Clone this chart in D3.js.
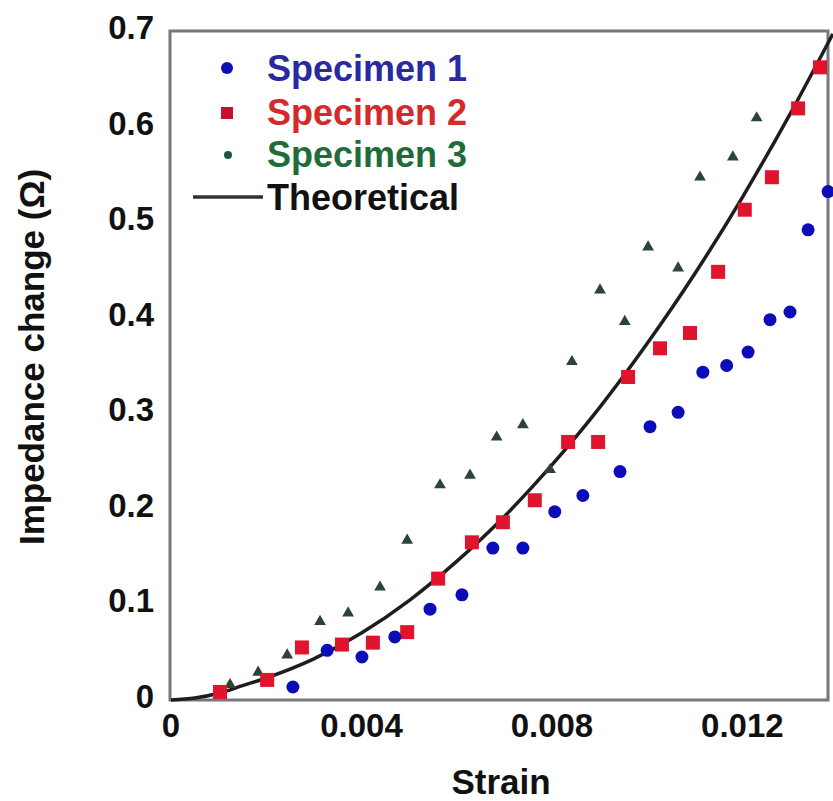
<!DOCTYPE html>
<html>
  <head>
    <meta charset="utf-8" />
    <title>Impedance change vs strain</title>
    <script src="https://d3js.org/d3.v7.min.js"></script>
    <style>
      body {
        margin: 0;
        background: #fff;
      }
      text {
        font-family: "Liberation Sans", Arial, sans-serif;
        font-weight: bold;
      }
    </style>
  </head>
  <body>
    <svg id="chart"></svg>

    <script>
      // values
      var s1Strain = [0.00256, 0.00328, 0.00401, 0.0047, 0.00544, 0.00611, 0.00676, 0.00739, 0.00806, 0.00865,
                      0.00943, 0.01006, 0.01065, 0.01117, 0.01167, 0.01212, 0.01258, 0.013, 0.01338, 0.0138];
      var s1Imp = [0.0136, 0.052, 0.045, 0.066, 0.095, 0.110, 0.159, 0.159, 0.197, 0.214,
                   0.239, 0.286, 0.301, 0.343, 0.350, 0.364, 0.398, 0.406, 0.492, 0.532];

      var s2Strain = [0.00103, 0.00202, 0.00275, 0.00359, 0.00424, 0.00496, 0.00561, 0.00632, 0.00697, 0.00764,
                      0.00834, 0.00897, 0.0096, 0.01027, 0.0109, 0.01149, 0.01205, 0.01262, 0.01317, 0.01363];
      var s2Imp = [0.0084, 0.021, 0.055, 0.058, 0.060, 0.071, 0.127, 0.165, 0.186, 0.209,
                   0.270, 0.270, 0.338, 0.368, 0.384, 0.448, 0.513, 0.547, 0.619, 0.662];

      var s3Strain = [0.00124, 0.00183, 0.00244, 0.00313, 0.00372, 0.00439, 0.00496, 0.00565, 0.00628, 0.00684,
                      0.00739, 0.00796, 0.00842, 0.00901, 0.00953, 0.01002, 0.01065, 0.01111, 0.0118, 0.0123];
      var s3Imp = [0.016, 0.029, 0.047, 0.082, 0.091, 0.118, 0.167, 0.225, 0.235, 0.275,
                   0.288, 0.241, 0.354, 0.429, 0.396, 0.474, 0.452, 0.547, 0.568, 0.609];

      var theoryStrain = [0, 0.0005, 0.001, 0.0015, 0.002, 0.003, 0.004, 0.005, 0.006, 0.007,
                          0.008, 0.009, 0.010, 0.011, 0.012, 0.013, 0.0139];
      var theoryImp = [0, 0.002, 0.007, 0.015, 0.023, 0.043, 0.070, 0.104, 0.145, 0.192,
                       0.246, 0.306, 0.373, 0.446, 0.526, 0.613, 0.697];

      var xTicks = [0, 0.004, 0.008, 0.012];
      var xTickLabels = ["0", "0.004", "0.008", "0.012"];
      var yTicks = [0, 0.1, 0.2, 0.3, 0.4, 0.5, 0.6, 0.7];
      var yTickLabels = ["0", "0.1", "0.2", "0.3", "0.4", "0.5", "0.6", "0.7"];

      var legendNames = ["Specimen 1", "Specimen 2", "Specimen 3", "Theoretical"];

      var width = 833;
      var height = 801;
      var margin = {top: 31, right: 3, bottom: 101, left: 171};

      var svg = d3.select("#chart")
        .attr("width", width)
        .attr("height", height);

      var x = d3.scaleLinear()
        .domain([0, 0.01384])
        .range([margin.left, width - margin.right]);

      var y = d3.scaleLinear()
        .domain([0, 0.7])
        .range([height - margin.bottom, margin.top]);

      // frame
      svg.append("rect")
        .attr("x", x(0) - 1)
        .attr("y", y(0.7))
        .attr("width", x(0.01384) - x(0) - 1)
        .attr("height", y(0) - y(0.7))
        .attr("fill", "none")
        .attr("stroke", "#777")
        .attr("stroke-width", 3);

      // tick labels
      svg.selectAll(".xtick")
        .data(xTicks)
        .enter().append("text")
        .attr("class", "xtick")
        .attr("x", function(d) { return x(d); })
        .attr("y", 737)
        .attr("text-anchor", "middle")
        .attr("font-size", 33)
        .attr("fill", "#111")
        .text(function(d, i) { return xTickLabels[i]; });

      svg.selectAll(".ytick")
        .data(yTicks)
        .enter().append("text")
        .attr("class", "ytick")
        .attr("x", 154)
        .attr("y", function(d) { return y(d) + 8; })
        .attr("text-anchor", "end")
        .attr("font-size", 33)
        .attr("fill", "#111")
        .text(function(d, i) { return yTickLabels[i]; });

      // axis titles
      svg.append("text")
        .attr("x", 501)
        .attr("y", 794)
        .attr("text-anchor", "middle")
        .attr("font-size", 35)
        .attr("fill", "#111")
        .text("Strain");

      svg.append("text")
        .attr("transform", "translate(44,357) rotate(-90)")
        .attr("text-anchor", "middle")
        .attr("font-size", 35)
        .attr("fill", "#111")
        .text("Impedance change (\u03A9)");

      // theoretical curve
      var theory = theoryStrain.map(function(d, i) { return [d, theoryImp[i]]; });
      var line = d3.line()
        .x(function(d) { return x(d[0]); })
        .y(function(d) { return y(d[1]); })
        .curve(d3.curveMonotoneX);

      svg.append("path")
        .datum(theory)
        .attr("d", line)
        .attr("fill", "none")
        .attr("stroke", "#1e1e1e")
        .attr("stroke-width", 3.5);

      // specimen 3 : small dark triangles
      var tri = d3.symbol().type(d3.symbolTriangle).size(60);
      svg.selectAll(".s3")
        .data(s3Strain)
        .enter().append("path")
        .attr("class", "s3")
        .attr("d", tri)
        .attr("transform", function(d, i) { return "translate(" + x(d) + "," + y(s3Imp[i]) + ")"; })
        .attr("fill", "#2c4434");

      // specimen 2 : red squares
      svg.selectAll(".s2")
        .data(s2Strain)
        .enter().append("rect")
        .attr("class", "s2")
        .attr("x", function(d) { return x(d) - 7; })
        .attr("y", function(d, i) { return y(s2Imp[i]) - 7; })
        .attr("width", 14)
        .attr("height", 14)
        .attr("fill", "#e0142d");

      // specimen 1 : blue dots
      svg.selectAll(".s1")
        .data(s1Strain)
        .enter().append("circle")
        .attr("class", "s1")
        .attr("cx", function(d) { return x(d); })
        .attr("cy", function(d, i) { return y(s1Imp[i]); })
        .attr("r", 6.5)
        .attr("fill", "#0c0cb8");

      // legend
      var legend = svg.append("g");
      var legendColors = ["#2a2aa0", "#d42a2a", "#1f6b3a", "#111"];
      var legendBase = [81, 125, 167, 210];

      legend.selectAll("text")
        .data(legendNames)
        .enter().append("text")
        .attr("x", 267)
        .attr("y", function(d, i) { return legendBase[i]; })
        .attr("font-size", 36)
        .attr("fill", function(d, i) { return legendColors[i]; })
        .text(function(d) { return d; });

      legend.append("circle")
        .attr("cx", 227).attr("cy", 68).attr("r", 6)
        .attr("fill", "#0c0cb8");
      legend.append("rect")
        .attr("x", 221).attr("y", 107).attr("width", 12).attr("height", 12)
        .attr("fill", "#c8102a");
      legend.append("circle")
        .attr("cx", 228).attr("cy", 155).attr("r", 4)
        .attr("fill", "#1f5a38");
      legend.append("line")
        .attr("x1", 193).attr("x2", 263)
        .attr("y1", 197).attr("y2", 197)
        .attr("stroke", "#333")
        .attr("stroke-width", 3.5);
    </script>
  </body>
</html>
